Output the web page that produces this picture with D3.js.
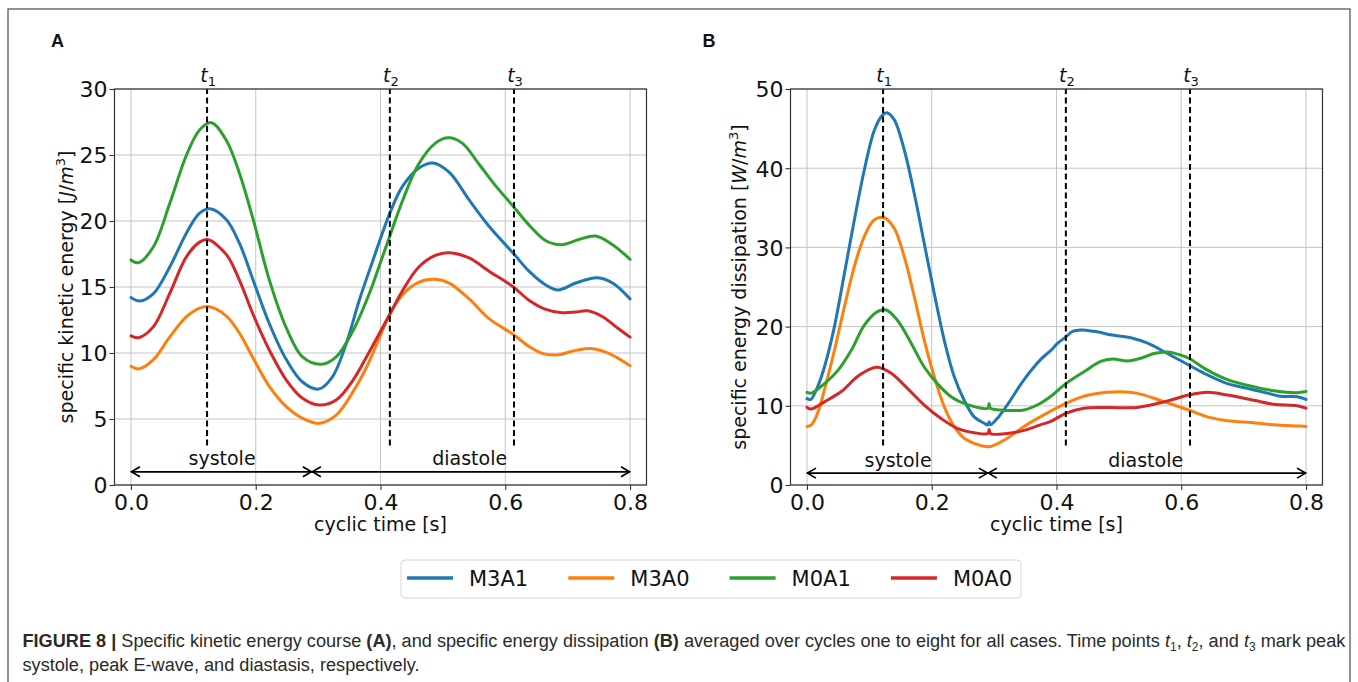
<!DOCTYPE html>
<html>
<head>
<meta charset="utf-8">
<script src="https://cdn.jsdelivr.net/npm/d3@7"></script>
<style>
  html, body { margin: 0; padding: 0; background: #fff; }
  svg { display: block; }
</style>
</head>
<body>
<svg id="chart" width="1358" height="682"></svg>
<script>
// ---------------- DATA ----------------
const seriesNames = ["M3A1", "M3A0", "M0A1", "M0A0"];
const seriesColors = ["#1f77b4", "#ff7f0e", "#2ca02c", "#d62728"];
const xTicks = [0.0, 0.2, 0.4, 0.6, 0.8];
const yTicksA = [0, 5, 10, 15, 20, 25, 30];
const yTicksB = [0, 10, 20, 30, 40, 50];
const timePoints = [0.122, 0.415, 0.614];          // t1, t2, t3
const timeLabels = ["1", "2", "3"];
const phaseBounds = [0.0, 0.29, 0.8];               // systole | diastole
const phaseNames = ["systole", "diastole"];
const phaseLabelX = [0.146, 0.543];

// Panel A: specific kinetic energy [J/m^3]  ([time s, value])
const keM3A1 = [[0,14.2],[0.014,13.94],[0.036,14.5],[0.062,16.5],[0.089,19.1],[0.11,20.6],[0.127,20.93],[0.153,20.1],[0.174,18.3],[0.196,15.5],[0.222,12.2],[0.249,9.5],[0.275,7.8],[0.301,7.27],[0.323,8.2],[0.345,10.7],[0.366,14.0],[0.387,16.9],[0.415,20.6],[0.435,22.6],[0.461,24.0],[0.484,24.4],[0.51,23.7],[0.542,21.6],[0.574,19.6],[0.613,17.55],[0.638,16.2],[0.665,15.15],[0.685,14.77],[0.713,15.3],[0.748,15.7],[0.772,15.3],[0.8,14.1]];
const keM3A0 = [[0,9.0],[0.013,8.8],[0.036,9.5],[0.062,11.2],[0.089,12.75],[0.11,13.4],[0.126,13.5],[0.153,12.8],[0.174,11.5],[0.196,9.6],[0.222,7.45],[0.249,5.93],[0.275,5.05],[0.301,4.67],[0.329,5.3],[0.356,7.07],[0.378,8.96],[0.396,10.9],[0.4145,12.9],[0.435,14.4],[0.461,15.35],[0.487,15.58],[0.51,15.3],[0.542,14.1],[0.574,12.6],[0.613,11.4],[0.638,10.5],[0.659,9.97],[0.683,9.85],[0.713,10.2],[0.74,10.33],[0.766,9.97],[0.8,9.04]];
const keM0A1 = [[0,17.05],[0.012,16.84],[0.036,18.05],[0.062,21.3],[0.089,25.0],[0.11,26.9],[0.129,27.45],[0.153,26.1],[0.174,23.6],[0.196,20.1],[0.222,15.5],[0.249,11.9],[0.275,9.7],[0.305,9.14],[0.329,9.7],[0.356,11.7],[0.382,14.5],[0.398,16.6],[0.4145,18.8],[0.435,21.5],[0.461,24.3],[0.488,25.9],[0.509,26.3],[0.531,25.9],[0.558,24.3],[0.584,22.7],[0.613,21.1],[0.638,19.7],[0.665,18.5],[0.69,18.2],[0.718,18.6],[0.745,18.86],[0.772,18.2],[0.8,17.1]];
const keM0A0 = [[0,11.3],[0.012,11.16],[0.036,12.0],[0.062,14.5],[0.089,17.3],[0.11,18.4],[0.123,18.6],[0.153,17.45],[0.174,15.5],[0.196,12.9],[0.222,10.2],[0.249,7.95],[0.275,6.57],[0.302,6.06],[0.329,6.44],[0.356,7.95],[0.381,10.0],[0.4145,12.9],[0.435,14.7],[0.461,16.5],[0.488,17.4],[0.51,17.6],[0.542,17.2],[0.574,16.2],[0.613,15.0],[0.638,14.0],[0.665,13.3],[0.691,13.05],[0.713,13.1],[0.732,13.2],[0.756,12.75],[0.777,12.0],[0.8,11.2]];

// Panel B: specific energy dissipation [W/m^3]
const edM3A1 = [[0,10.9],[0.006,10.8],[0.017,12.4],[0.028,14.9],[0.044,20.0],[0.06,26.7],[0.076,33.5],[0.092,39.8],[0.108,44.8],[0.121,46.7],[0.128,47.0],[0.14,46.1],[0.156,42.3],[0.172,36.8],[0.188,30.5],[0.204,24.2],[0.22,18.3],[0.236,13.7],[0.252,10.7],[0.268,8.6],[0.284,7.8],[0.29,7.57],[0.292,8.0],[0.294,7.6],[0.305,8.4],[0.321,10.1],[0.348,13.3],[0.374,15.8],[0.391,17.0],[0.402,17.9],[0.415,18.7],[0.426,19.4],[0.439,19.57],[0.46,19.4],[0.492,18.9],[0.519,18.6],[0.546,17.9],[0.578,16.6],[0.612,15.15],[0.642,13.9],[0.674,12.8],[0.706,12.2],[0.738,11.6],[0.759,11.2],[0.786,11.15],[0.8,10.8]];
const edM3A0 = [[0,7.4],[0.007,7.6],[0.017,9.05],[0.028,12.0],[0.044,17.0],[0.06,22.5],[0.076,27.6],[0.092,31.4],[0.108,33.5],[0.124,33.75],[0.14,32.4],[0.156,28.8],[0.172,23.8],[0.188,18.3],[0.204,13.7],[0.22,9.9],[0.236,7.4],[0.252,5.9],[0.268,5.26],[0.292,4.84],[0.321,5.9],[0.348,7.4],[0.374,8.6],[0.415,10.3],[0.444,11.2],[0.482,11.7],[0.503,11.78],[0.53,11.57],[0.562,10.8],[0.588,10.1],[0.612,9.47],[0.642,8.6],[0.674,8.1],[0.716,7.87],[0.748,7.6],[0.786,7.45],[0.8,7.4]];
const edM0A1 = [[0,11.7],[0.007,11.6],[0.028,12.8],[0.05,14.5],[0.071,17.0],[0.092,20.2],[0.113,21.9],[0.127,22.1],[0.145,20.8],[0.167,17.9],[0.188,14.9],[0.209,12.8],[0.231,11.15],[0.252,10.3],[0.273,9.8],[0.29,9.7],[0.292,10.3],[0.294,9.7],[0.31,9.47],[0.326,9.4],[0.348,9.47],[0.369,10.1],[0.39,11.15],[0.415,12.8],[0.444,14.3],[0.471,15.6],[0.49,15.9],[0.514,15.66],[0.535,16.0],[0.556,16.6],[0.578,16.8],[0.599,16.4],[0.612,16.0],[0.642,14.5],[0.674,13.3],[0.716,12.4],[0.748,11.9],[0.786,11.65],[0.8,11.8]];
const edM0A0 = [[0,9.8],[0.007,9.6],[0.028,10.5],[0.055,11.8],[0.081,13.7],[0.103,14.7],[0.114,14.86],[0.135,14.1],[0.161,12.2],[0.188,10.1],[0.215,8.4],[0.241,7.15],[0.268,6.6],[0.29,6.5],[0.292,7.0],[0.294,6.5],[0.321,6.5],[0.348,6.9],[0.374,7.6],[0.39,8.0],[0.415,9.05],[0.444,9.7],[0.482,9.8],[0.524,9.76],[0.551,10.1],[0.578,10.6],[0.612,11.36],[0.642,11.7],[0.674,11.36],[0.716,10.7],[0.748,10.2],[0.786,10.0],[0.8,9.7]];

const captionLine1 = [
  {t: "FIGURE 8 | ", b: true},
  {t: "Specific kinetic energy course "},
  {t: "(A)", b: true},
  {t: ", and specific energy dissipation "},
  {t: "(B)", b: true},
  {t: " averaged over cycles one to eight for all cases. Time points "},
  {t: "t", i: true}, {t: "1", sub: true}, {t: ", "},
  {t: "t", i: true}, {t: "2", sub: true}, {t: ", and "},
  {t: "t", i: true}, {t: "3", sub: true}, {t: " mark peak"}
];
const captionLine2 = "systole, peak E-wave, and diastasis, respectively.";

// ---------------- DRAW ----------------
const svg = d3.select("#chart");
const FONT = "'DejaVu Sans', sans-serif";
const CAPFONT = "'Liberation Sans', Arial, sans-serif";

svg.append("rect").attr("x", 0).attr("y", 0).attr("width", 1358).attr("height", 682).attr("fill", "#fff");
svg.append("rect").attr("x", 8).attr("y", 9).attr("width", 1342).attr("height", 700)
  .attr("fill", "none").attr("stroke", "#4a4a4a").attr("stroke-width", 1.2);

const panels = [
  {letter: "A", letterX: 51, left: 114.5, yMax: 30, yTicks: yTicksA, data: [keM3A1, keM3A0, keM0A1, keM0A0],
   ylabel: ["specific kinetic energy [", "J", "/", "m", "3", "]"], ylabelX: 73, arrowY: 1, dashBottom: 3},
  {letter: "B", letterX: 702.5, left: 790.5, yMax: 50, yTicks: yTicksB, data: [edM3A1, edM3A0, edM0A1, edM0A0],
   ylabel: ["specific energy dissipation [", "W", "/", "m", "3", "]"], ylabelX: 746, arrowY: 1.5, dashBottom: 5}
];

const plotTop = 89, plotBottom = 485, plotW = 532;

panels.forEach((p, pi) => {
  const g = svg.append("g");
  const x = d3.scaleLinear().domain([-0.0264, 0.8264]).range([p.left, p.left + plotW]);
  const y = d3.scaleLinear().domain([0, p.yMax]).range([plotBottom, plotTop]);

  // panel letter
  g.append("text").attr("x", p.letterX).attr("y", 47).text(p.letter)
    .attr("font-family", CAPFONT).attr("font-weight", "bold").attr("font-size", 18).attr("fill", "#111");

  // grid
  const grid = g.append("g").attr("stroke", "#c4c4c4").attr("stroke-width", 1);
  xTicks.forEach(v => grid.append("line").attr("x1", x(v)).attr("x2", x(v)).attr("y1", plotTop).attr("y2", plotBottom));
  p.yTicks.forEach(v => grid.append("line").attr("x1", p.left).attr("x2", p.left + plotW).attr("y1", y(v)).attr("y2", y(v)));

  // axes
  const ax = g.append("g").attr("transform", `translate(0,${plotBottom})`)
    .call(d3.axisBottom(x).tickValues(xTicks).tickFormat(d3.format(".1f")).tickSize(5).tickPadding(4));
  const ay = g.append("g").attr("transform", `translate(${p.left},0)`)
    .call(d3.axisLeft(y).tickValues(p.yTicks).tickFormat(d3.format("d")).tickSize(5).tickPadding(2));
  [ax, ay].forEach(a => {
    a.select(".domain").remove();
    a.selectAll(".tick line").attr("stroke", "#333").attr("stroke-width", 1.1);
    a.selectAll(".tick text").attr("font-family", FONT).attr("font-size", 22).attr("fill", "#111");
  });
  ay.selectAll(".tick text").attr("dy", "0.36em");

  // clip
  const cid = "clip" + pi;
  svg.append("clipPath").attr("id", cid).append("rect")
    .attr("x", p.left).attr("y", plotTop).attr("width", plotW).attr("height", plotBottom - plotTop);

  // lines
  const line = d3.line().x(d => x(d[0])).y(d => y(d[1])).curve(d3.curveCatmullRom.alpha(0.5));
  const lg = g.append("g").attr("clip-path", `url(#${cid})`);
  p.data.forEach((s, i) => {
    lg.append("path").attr("d", line(s)).attr("fill", "none")
      .attr("stroke", seriesColors[i]).attr("stroke-width", 3).attr("stroke-linejoin", "round").attr("stroke-linecap", "round");
  });

  // dashed time markers
  timePoints.forEach((t, i) => {
    g.append("line").attr("x1", x(t)).attr("x2", x(t)).attr("y1", y(p.dashBottom)).attr("y2", y(p.yMax))
      .attr("stroke", "#000").attr("stroke-width", 2).attr("stroke-dasharray", "6,3.5");
    const tl = g.append("text").attr("x", x(t) + 1).attr("y", 82).attr("text-anchor", "middle")
      .attr("font-family", FONT).attr("font-size", 19).attr("fill", "#111");
    tl.append("tspan").attr("font-style", "italic").text("t");
    tl.append("tspan").attr("font-size", 13).attr("dy", 4).text(timeLabels[i]);
  });

  // phase arrows
  const ay0 = y(p.arrowY);
  const arrowG = g.append("g").attr("stroke", "#000").attr("stroke-width", 1.7).attr("fill", "none");
  for (let k = 0; k < 2; k++) {
    const a = x(phaseBounds[k]), b = x(phaseBounds[k + 1]);
    arrowG.append("line").attr("x1", a).attr("x2", b).attr("y1", ay0).attr("y2", ay0);
    arrowG.append("path").attr("d", `M${a + 9},${ay0 - 5} L${a + 0.5},${ay0} L${a + 9},${ay0 + 5}`);
    arrowG.append("path").attr("d", `M${b - 9},${ay0 - 5} L${b - 0.5},${ay0} L${b - 9},${ay0 + 5}`);
    g.append("text").attr("x", x(phaseLabelX[k])).attr("y", ay0 - 6.5).attr("text-anchor", "middle")
      .attr("font-family", FONT).attr("font-size", 19).attr("fill", "#111").text(phaseNames[k]);
  }

  // frame
  g.append("rect").attr("x", p.left).attr("y", plotTop).attr("width", plotW).attr("height", plotBottom - plotTop)
    .attr("fill", "none").attr("stroke", "#333").attr("stroke-width", 1.2);

  // x label
  g.append("text").attr("x", x(0.4)).attr("y", 531).attr("text-anchor", "middle")
    .attr("font-family", FONT).attr("font-size", 19).attr("fill", "#111").text("cyclic time [s]");

  // y label
  const cy = (plotTop + plotBottom) / 2;
  const yl = g.append("text").attr("transform", `translate(${p.ylabelX},${cy}) rotate(-90)`)
    .attr("text-anchor", "middle").attr("font-family", FONT).attr("font-size", 19).attr("fill", "#111");
  yl.append("tspan").text(p.ylabel[0]);
  yl.append("tspan").attr("font-style", "italic").text(p.ylabel[1]);
  yl.append("tspan").text(p.ylabel[2]);
  yl.append("tspan").attr("font-style", "italic").text(p.ylabel[3]);
  yl.append("tspan").attr("font-size", 13).attr("dy", -8).text(p.ylabel[4]);
  yl.append("tspan").attr("dy", 8).text(p.ylabel[5]);
});

// legend
const leg = svg.append("g");
leg.append("rect").attr("x", 401).attr("y", 560).attr("width", 620).attr("height", 38).attr("rx", 4)
  .attr("fill", "#fff").attr("stroke", "#d6d6d6").attr("stroke-width", 1);
seriesNames.forEach((n, i) => {
  const x0 = 407 + i * 161.3;
  leg.append("line").attr("x1", x0).attr("x2", x0 + 46).attr("y1", 578).attr("y2", 578)
    .attr("stroke", seriesColors[i]).attr("stroke-width", 3.5);
  leg.append("text").attr("x", x0 + 62).attr("y", 585.5).attr("font-family", FONT).attr("font-size", 21)
    .attr("fill", "#111").text(n);
});

// caption
const cap = svg.append("text").attr("x", 22.5).attr("y", 646.5).attr("font-family", CAPFONT)
  .attr("font-size", 18.15).attr("fill", "#2a2a2a");
let prevSub = false;
captionLine1.forEach(seg => {
  const ts = cap.append("tspan").text(seg.t);
  if (seg.b) ts.attr("font-weight", "bold");
  if (seg.i) ts.attr("font-style", "italic");
  if (seg.sub) { ts.attr("font-size", 12).attr("dy", 4); prevSub = true; }
  else if (prevSub) { ts.attr("dy", -4); prevSub = false; }
});
svg.append("text").attr("x", 22.5).attr("y", 670.5).attr("font-family", CAPFONT)
  .attr("font-size", 18.15).attr("fill", "#2a2a2a").text(captionLine2);
</script>
</body>
</html>
